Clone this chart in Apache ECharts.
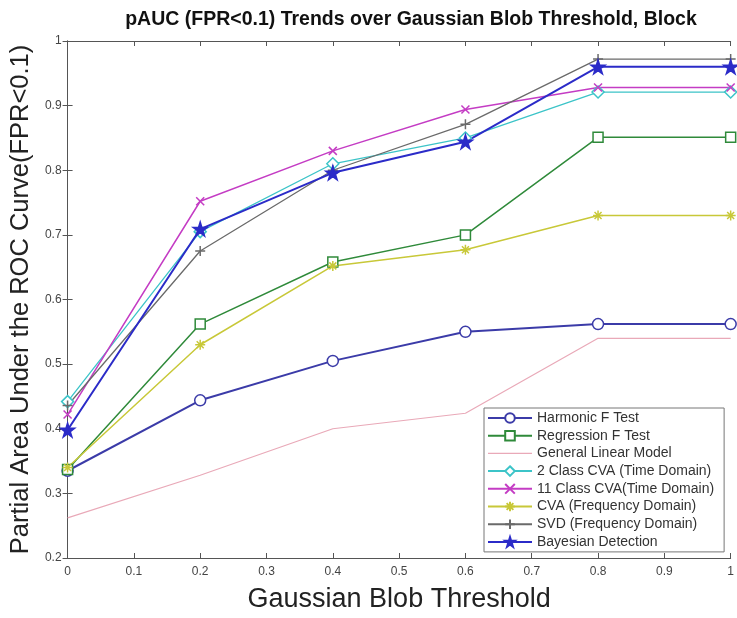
<!DOCTYPE html>
<html>
<head>
<meta charset="utf-8">
<script src="https://cdn.jsdelivr.net/npm/echarts@6/dist/echarts.min.js"></script>
<style>html,body{margin:0;padding:0;background:#fff}#c{width:737px;height:618px}</style>
</head>
<body>
<div id="c"></div>
<script>
var thresholds = [0, 0.2, 0.4, 0.6, 0.8, 1];
var xTickLabels = ['0','0.1','0.2','0.3','0.4','0.5','0.6','0.7','0.8','0.9','1'];
var yTickLabels = ['0.2','0.3','0.4','0.5','0.6','0.7','0.8','0.9','1'];
var harmonicF   = [0.335, 0.444, 0.505, 0.550, 0.562, 0.562];
var regressionF = [0.337, 0.562, 0.658, 0.700, 0.851, 0.851];
var glm         = [0.262, 0.328, 0.400, 0.424, 0.540, 0.540];
var cva2Time    = [0.442, 0.705, 0.810, 0.850, 0.921, 0.921];
var cva11Time   = [0.422, 0.752, 0.830, 0.894, 0.928, 0.928];
var cvaFreq     = [0.340, 0.530, 0.652, 0.677, 0.730, 0.730];
var svdFreq     = [0.436, 0.675, 0.800, 0.871, 0.972, 0.972];
var bayesian    = [0.398, 0.709, 0.796, 0.844, 0.960, 0.960];

function pairs(arr){ return thresholds.map(function(x,i){ return [x, arr[i]]; }); }

var starPath = 'path://M50,0L61.8,36.2L100,36.2L69.1,58.6L80.9,95.1L50,72.7L19.1,95.1L30.9,58.6L0,36.2L38.2,36.2Z';
var xPath = 'path://M0,0L10,10M10,0L0,10';
var plusPath = 'path://M5,0L5,10M0,5L10,5';
var astPath = 'path://M5,0L5,10M0,5L10,5M1.5,1.5L8.5,8.5M8.5,1.5L1.5,8.5';

function mk(name, data, color, symbol, size, hollow, width){
  return {
    name: name, type: 'line', data: pairs(data),
    symbol: symbol, symbolSize: size, showSymbol: symbol !== 'none',
    lineStyle: {color: color, width: width || 1.5},
    itemStyle: {color: hollow ? '#fff' : color, borderColor: color, borderWidth: 1.5},
    emphasis: {disabled: true},
    animation: false, z: 3
  };
}

var series = [
  mk('Harmonic F Test', harmonicF, '#3b3ba8', 'circle', 11, true, 2),
  mk('Regression F Test', regressionF, '#2f8a3a', 'rect', 10, true, 1.5),
  mk('General Linear Model', glm, '#e9a9b8', 'none', 0, false, 1.2),
  mk('2 Class CVA (Time Domain)', cva2Time, '#3cc4c8', 'diamond', 12, true, 1.3),
  mk('11 Class CVA(Time Domain)', cva11Time, '#c43cc4', xPath, 8, false, 1.5),
  mk('CVA (Frequency Domain)', cvaFreq, '#c8c838', astPath, 10, false, 1.5),
  mk('SVD (Frequency Domain)', svdFreq, '#6a6a6a', plusPath, 10, false, 1.3),
  mk('Bayesian Detection', bayesian, '#2b2bc8', starPath, 14, false, 2)
];

var legendData = series.map(function(s){
  if (s.symbol === 'none') {
    return {name: s.name, icon: 'path://M0,9.4L40,9.4L40,10.6L0,10.6Z', itemStyle: {color: '#e9a9b8', borderWidth: 0}};
  }
  return {name: s.name};
});

var font = 'Liberation Sans';
var chart = echarts.init(document.getElementById('c'), null, {renderer: 'canvas'});
chart.setOption({
  backgroundColor: '#fff',
  animation: false,
  title: {
    text: 'pAUC (FPR<0.1) Trends over Gaussian Blob Threshold, Block',
    left: 406, top: 5, textAlign: 'center',
    textStyle: {fontFamily: font, fontSize: 19.5, fontWeight: 'bold', color: '#111'}
  },
  grid: {left: 66, right: 3, top: 41, bottom: 50, containLabel: false},
  legend: {
    orient: 'vertical', left: 484, top: 408,
    itemWidth: 44, itemHeight: 12, itemGap: 3.7,
    backgroundColor: '#fff', borderColor: '#777', borderWidth: 1,
    padding: [3, 10, 3, 3],
    textStyle: {fontFamily: font, fontSize: 14, color: '#333'},
    data: legendData
  },
  xAxis: [{
    type: 'value', min: 0, max: 1, interval: 0.1,
    name: 'Gaussian Blob Threshold', nameLocation: 'middle', nameGap: 28,
    nameTextStyle: {fontFamily: font, fontSize: 27, color: '#222'},
    axisLine: {show: true, lineStyle: {color: '#555', width: 1}},
    axisTick: {show: true, inside: true, length: 5, lineStyle: {color: '#555'}},
    axisLabel: {fontFamily: font, fontSize: 12, color: '#444', margin: 8,
      formatter: function(v){ return xTickLabels[Math.round(v*10)]; }},
    splitLine: {show: false}
  }, {
    type: 'value', min: 0, max: 1, interval: 0.1, position: 'top',
    axisLine: {show: true, lineStyle: {color: '#555', width: 1}},
    axisTick: {show: true, inside: true, length: 5, lineStyle: {color: '#555'}},
    axisLabel: {show: false}, splitLine: {show: false}
  }],
  yAxis: [{
    type: 'value', min: 0.2, max: 1, interval: 0.1,
    name: 'Partial Area Under the ROC Curve(FPR<0.1)', nameLocation: 'middle', nameGap: 31,
    nameTextStyle: {fontFamily: font, fontSize: 25.5, color: '#222'},
    axisLine: {show: true, lineStyle: {color: '#555', width: 1}},
    axisTick: {show: true, inside: true, length: 5, lineStyle: {color: '#555'}},
    axisLabel: {fontFamily: font, fontSize: 12, color: '#444', margin: 6,
      formatter: function(v){ return yTickLabels[Math.round((v-0.2)*10)]; }},
    splitLine: {show: false}
  }, {
    type: 'value', min: 0.2, max: 1, interval: 0.1, position: 'right',
    axisLine: {show: true, lineStyle: {color: '#555', width: 1}},
    axisTick: {show: true, inside: true, length: 5, lineStyle: {color: '#555'}},
    axisLabel: {show: false}, splitLine: {show: false}
  }],
  series: series
});
</script>
</body>
</html>
